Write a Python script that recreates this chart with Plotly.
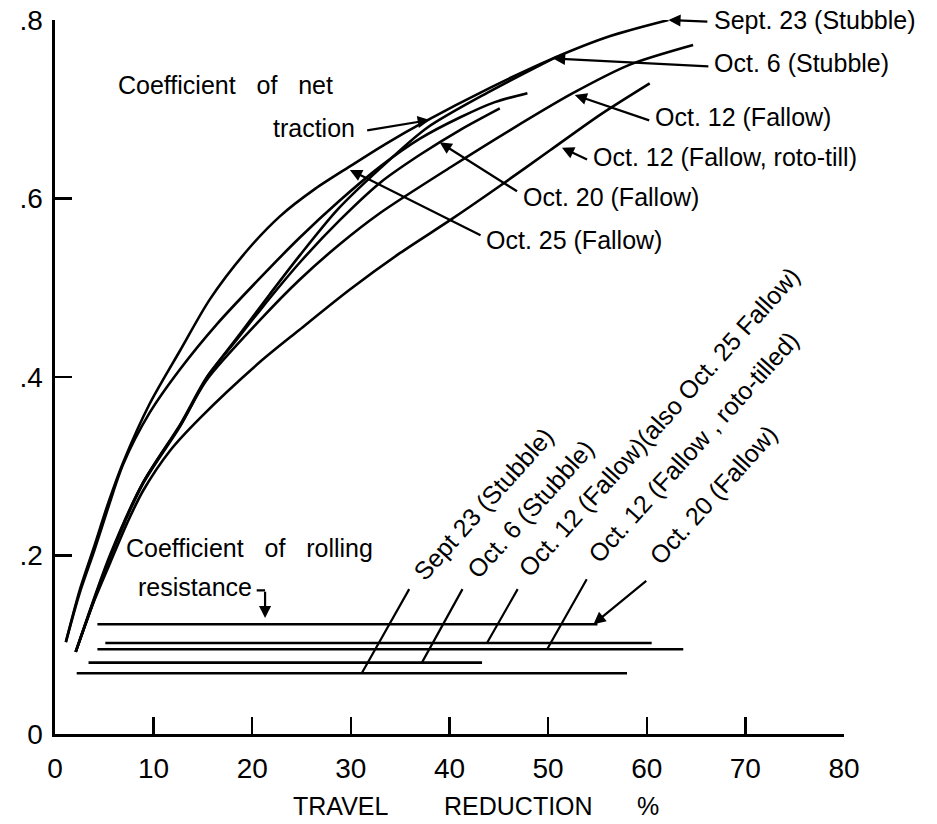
import plotly.graph_objects as go

# ---------------- data ----------------
# Coefficient of net traction curves
sept23_x = [1.1, 2.5, 4.0, 5.4, 6.9, 9.6, 12.7, 15.7, 19.5, 22.8, 26.4, 29.9, 33.5, 37.3, 44.1, 50.5, 56.3, 62.2]
sept23_y = [0.103, 0.161, 0.211, 0.259, 0.304, 0.370, 0.430, 0.487, 0.542, 0.580, 0.611, 0.636, 0.661, 0.685, 0.724, 0.757, 0.782, 0.800]

oct25_x = [1.1, 2.5, 4.0, 5.4, 6.9, 9.6, 12.7, 16.4, 20.8, 24.8, 28.9, 33.0, 37.0, 41.1, 44.6, 47.9]
oct25_y = [0.103, 0.158, 0.206, 0.254, 0.302, 0.360, 0.409, 0.459, 0.511, 0.556, 0.598, 0.636, 0.667, 0.691, 0.708, 0.718]

oct6_x = [2.1, 5.6, 8.9, 12.7, 15.4, 18.8, 21.8, 24.8, 28.6, 33.0, 37.7, 44.1, 50.9]
oct6_y = [0.092, 0.199, 0.280, 0.345, 0.399, 0.449, 0.493, 0.536, 0.587, 0.634, 0.679, 0.720, 0.759]

oct20_x = [2.1, 5.6, 8.9, 12.7, 15.4, 18.3, 20.8, 24.8, 28.9, 33.0, 37.0, 41.1, 45.1]
oct20_y = [0.092, 0.199, 0.281, 0.347, 0.400, 0.440, 0.475, 0.528, 0.576, 0.618, 0.649, 0.677, 0.701]

oct12_x = [2.1, 5.6, 8.9, 12.7, 15.4, 20.8, 24.8, 28.9, 33.0, 40.1, 46.2, 52.5, 58.3, 64.7]
oct12_y = [0.092, 0.201, 0.281, 0.346, 0.397, 0.464, 0.509, 0.549, 0.584, 0.635, 0.677, 0.718, 0.750, 0.772]

oct12r_x = [2.1, 4.0, 5.6, 7.3, 8.9, 11.7, 14.7, 20.8, 24.8, 29.9, 35.0, 40.1, 45.1, 50.2, 55.3, 60.3]
oct12r_y = [0.092, 0.150, 0.192, 0.236, 0.272, 0.318, 0.354, 0.417, 0.453, 0.498, 0.539, 0.576, 0.614, 0.654, 0.694, 0.729]

# Coefficient of rolling resistance (horizontal lines)
rr_names = ["Oct. 20", "Oct. 12 (Fallow)", "Oct. 12 roto-tilled", "Oct. 6", "Sept 23"]
rr_value = [0.123, 0.102, 0.095, 0.080, 0.068]
rr_x_start = [4.3, 5.1, 4.3, 3.4, 2.2]
rr_x_end = [55.0, 60.5, 63.7, 43.3, 58.0]

x_ticks = [0, 10, 20, 30, 40, 50, 60, 70, 80]
y_ticks = [0, 0.2, 0.4, 0.6, 0.8]
y_tick_text = ["0", ".2", ".4", ".6", ".8"]

# ---------------- figure ----------------
FONT = "Liberation Sans, Arial, sans-serif"
LW = 2.6
fig = go.Figure()

for xs, ys in [(sept23_x, sept23_y), (oct25_x, oct25_y), (oct6_x, oct6_y),
               (oct20_x, oct20_y), (oct12_x, oct12_y), (oct12r_x, oct12r_y)]:
    fig.add_trace(go.Scatter(x=xs, y=ys, mode="lines",
                             line=dict(color="black", width=LW, shape="spline", smoothing=0.8),
                             hoverinfo="skip", showlegend=False))

for v, x0, x1 in zip(rr_value, rr_x_start, rr_x_end):
    fig.add_trace(go.Scatter(x=[x0, x1], y=[v, v], mode="lines",
                             line=dict(color="black", width=LW),
                             hoverinfo="skip", showlegend=False))

ann = []

def text(x, y, s, size=25, angle=0, xanchor="center"):
    ann.append(dict(x=x, y=y, xref="x", yref="y", text=s, showarrow=False,
                    textangle=angle, xanchor=xanchor, yanchor="middle",
                    font=dict(family=FONT, size=size, color="black")))

def ptext(x, y, s, size=25):
    ann.append(dict(x=x, y=y, xref="paper", yref="paper", text=s, showarrow=False,
                    xanchor="center", yanchor="middle",
                    font=dict(family=FONT, size=size, color="black")))

def arrow(x0, y0, x1, y1, head=2, width=2.2):
    ann.append(dict(x=x1, y=y1, ax=x0, ay=y0, xref="x", yref="y", axref="x", ayref="y",
                    text="", showarrow=True, arrowhead=head, arrowsize=1.1,
                    arrowwidth=width, arrowcolor="black", standoff=0, startstandoff=0))

NB = "\u00a0"
# Right-hand labels of traction curves
text(66.6, 0.800, "Sept. 23 (Stubble)", xanchor="left")
arrow(66.3, 0.798, 62.2, 0.800)
text(66.6, 0.752, "Oct. 6 (Stubble)", xanchor="left")
arrow(66.4, 0.748, 50.5, 0.757)
text(60.6, 0.691, "Oct. 12 (Fallow)", xanchor="left")
arrow(60.4, 0.687, 52.7, 0.716)
text(54.3, 0.646, "Oct. 12 (Fallow, roto-till)", xanchor="left")
arrow(54.1, 0.643, 51.4, 0.657)
text(47.2, 0.602, "Oct. 20 (Fallow)", xanchor="left")
arrow(47.0, 0.607, 39.0, 0.663)
text(43.5, 0.553, "Oct. 25 (Fallow)", xanchor="left")
arrow(43.3, 0.558, 29.9, 0.632)

text(17.3, 0.727, "Coefficient" + NB * 3 + "of" + NB * 3 + "net")
text(26.3, 0.679, "traction")
arrow(31.5, 0.676, 38.0, 0.688)

text(19.7, 0.208, "Coefficient" + NB * 3 + "of" + NB * 3 + "rolling")
text(14.2, 0.165, "resistance")
arrow(20.3, 0.161, 21.3, 0.161, head=0)
arrow(21.3, 0.161, 21.3, 0.130)

# Rotated labels of rolling resistance lines
ANG = -48
text(43.4, 0.258, "Sept 23 (Stubble)", angle=ANG)
text(48.2, 0.252, "Oct. 6 (Stubble)", angle=ANG)
text(61.2, 0.350, "Oct. 12 (Fallow)(also Oct. 25 Fallow)", angle=ANG)
text(64.7, 0.322, "Oct. 12 (Fallow , roto-tilled)", angle=ANG)
text(66.7, 0.268, "Oct. 20 (Fallow)", angle=ANG)

arrow(36.0, 0.164, 31.1, rr_value[4], head=0)
arrow(41.4, 0.164, 37.2, rr_value[3], head=0)
arrow(47.0, 0.164, 43.8, rr_value[1], head=0)
arrow(54.0, 0.175, 49.9, rr_value[2], head=0)
arrow(60.1, 0.173, 54.6, rr_value[0], head=2)

# Axis title words (paper coordinates, below the axis)
ptext(0.362, -0.101, "TRAVEL")
ptext(0.588, -0.101, "REDUCTION")
ptext(0.752, -0.101, "%")

fig.update_layout(
    template="none",
    width=937, height=824,
    margin=dict(l=55, r=93, t=20, b=90, pad=0),
    paper_bgcolor="white", plot_bgcolor="white",
    showlegend=False,
    hovermode=False,
    annotations=ann,
    font=dict(family=FONT, color="black"),
)
fig.update_xaxes(range=[0, 80], tickvals=x_ticks, ticks="inside", ticklen=17, tickwidth=2.4,
                 tickcolor="black", showline=True, linewidth=2.6, linecolor="black",
                 showgrid=False, zeroline=False, tickfont=dict(family=FONT, size=28),
                 ticklabelstandoff=8, automargin=False, ticklabeloverflow="allow")
fig.update_yaxes(range=[0, 0.8], tickvals=y_ticks, ticktext=y_tick_text, ticks="inside",
                 ticklen=17, tickwidth=2.4, tickcolor="black", showline=True, linewidth=2.6,
                 linecolor="black", showgrid=False, zeroline=False,
                 tickfont=dict(family=FONT, size=28), ticklabelstandoff=4, automargin=False,
                 ticklabeloverflow="allow")

# Remove the default 8 px page margin so the figure sits at the window's corner.
fig.write_html("out.html",
               config={"displayModeBar": False, "staticPlot": True},
               post_script="document.body.style.margin='0';document.body.style.padding='0';")
